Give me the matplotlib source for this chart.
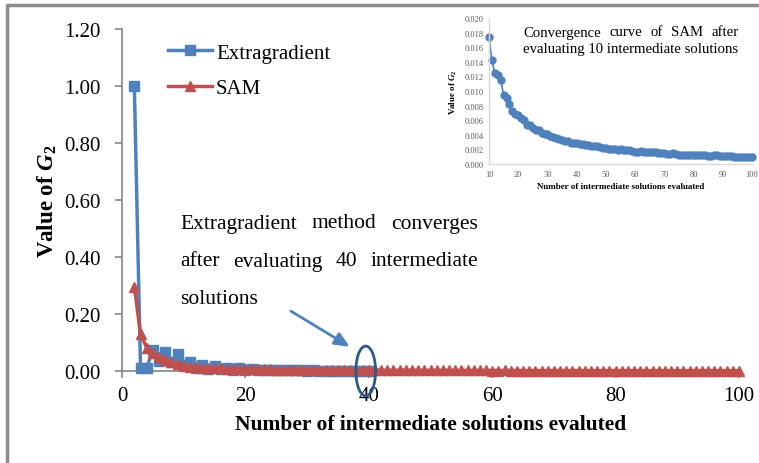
import matplotlib
matplotlib.use("Agg")
import matplotlib.pyplot as plt
from matplotlib.patches import Ellipse
from matplotlib.lines import Line2D

plt.rcParams['font.family'] = ['Liberation Serif', 'DejaVu Serif']
plt.rcParams['mathtext.fontset'] = 'custom'
plt.rcParams['mathtext.rm'] = 'Liberation Serif:bold'
plt.rcParams['mathtext.it'] = 'Liberation Serif:italic:bold'
plt.rcParams['mathtext.bf'] = 'Liberation Serif:bold'

# ---------------- data ----------------
extra_x = list(range(2, 41))
extra_y = [1.00, 0.010, 0.010, 0.075, 0.035, 0.068, 0.030, 0.060, 0.020, 0.032,
           0.012, 0.022, 0.008, 0.018, 0.006, 0.012, 0.005, 0.009, 0.004, 0.007,
           0.003, 0.005, 0.003, 0.004, 0.002, 0.003, 0.002, 0.0025, 0.0015, 0.002,
           0.0012, 0.0015, 0.001, 0.0012, 0.001, 0.001, 0.0008, 0.0008, 0.0006]

sam_x = list(range(2, 101))
sam_y = [0.295, 0.130, 0.082, 0.062, 0.050, 0.040, 0.031, 0.024,
         0.0174, 0.0142, 0.0124, 0.0122, 0.0115, 0.0095, 0.0090, 0.0082, 0.0072, 0.0069,
         0.0067, 0.0063, 0.0060, 0.0054, 0.0053, 0.0050, 0.0046, 0.0046, 0.0042, 0.0041,
         0.0041, 0.0039, 0.0037, 0.0035, 0.0034, 0.0033, 0.0032, 0.0032, 0.0029, 0.0029,
         0.0029, 0.0028, 0.0027, 0.0026, 0.0026, 0.0025, 0.0024, 0.0024, 0.0023, 0.0022,
         0.0022, 0.0021, 0.0021, 0.0020, 0.0019, 0.0020, 0.0019, 0.0019, 0.0019, 0.0018,
         0.0017, 0.0017, 0.0018, 0.0017, 0.0016, 0.0016, 0.0016, 0.0016, 0.0015, 0.0015,
         0.0015, 0.0014, 0.0014, 0.0015, 0.0014, 0.0013, 0.0013, 0.0013, 0.0013, 0.0013,
         0.0012, 0.0012, 0.0012, 0.0012, 0.0012, 0.0011, 0.0011, 0.0012, 0.0012, 0.0011,
         0.0011, 0.0011, 0.0011, 0.0011, 0.0010, 0.0010, 0.0010, 0.0010, 0.0010, 0.0010,
         0.0010]

inset_start = 10
inset_x = [x for x in sam_x if x >= inset_start]
inset_y = [y for x, y in zip(sam_x, sam_y) if x >= inset_start]

main_yticks = [0.0, 0.2, 0.4, 0.6, 0.8, 1.0, 1.2]
main_xticks = [0, 20, 40, 60, 80, 100]
inset_yticks = [0.000, 0.002, 0.004, 0.006, 0.008, 0.010, 0.012, 0.014, 0.016, 0.018, 0.020]
inset_xticks = [10, 20, 30, 40, 50, 60, 70, 80, 90, 100]

BLUE = '#4F81BD'
RED = '#C0504D'
GRAY = '#868686'

W, H = 759, 464
fig = plt.figure(figsize=(W / 100, H / 100), dpi=100)


def fx(px):
    return px / W


def fy(py):
    return 1 - py / H


# figure border (left + top visible)
fig.add_artist(Line2D([fx(7), fx(7), 1.0], [0.0, fy(6), fy(6)],
                      transform=fig.transFigure, color='#8c8c8c', lw=2.5))

# ---------------- main axes ----------------
ax = fig.add_axes([fx(122), fy(372), fx(739) - fx(122), fy(30) - fy(372)])
ax.plot(extra_x, extra_y, color=BLUE, lw=2.5, marker='s', ms=7, label='Extragradient',
        clip_on=False, zorder=3)
ax.plot(sam_x, sam_y, color=RED, lw=2.5, marker='^', ms=7, label='SAM',
        clip_on=False, zorder=4)
ax.set_xlim(0, 100)
ax.set_ylim(0, 1.2)
ax.set_yticks(main_yticks)
ax.set_yticklabels([f'{v:.2f}' for v in main_yticks])
ax.set_xticks(main_xticks)
ax.set_xticklabels([str(v) for v in main_xticks])
for s in ['top', 'right']:
    ax.spines[s].set_visible(False)
for s in ['left', 'bottom']:
    ax.spines[s].set_color(GRAY)
    ax.spines[s].set_linewidth(1.2)
ax.tick_params(axis='both', colors=GRAY, labelcolor='black', labelsize=15,
               length=5, width=1.2, direction='out')
ax.tick_params(axis='y', pad=10.5)
ax.tick_params(axis='x', pad=6)
ax.set_ylabel(r'Value of $G_2$', fontsize=16.5, fontweight='bold')
ax.yaxis.set_label_coords(-0.102, 0.5)
ax.set_xlabel('Number of intermediate solutions evaluted', fontsize=15.5, fontweight='bold')
ax.xaxis.set_label_coords(0.5, -0.125)

leg = ax.legend(loc='upper left', bbox_to_anchor=(fx(168), fy(44)),
                bbox_transform=fig.transFigure, frameon=False, fontsize=15,
                handlelength=2.1, handletextpad=0.2, labelspacing=0.75,
                borderpad=0, borderaxespad=0)

# annotation: arrow and ellipse
ax.add_patch(Ellipse((39.5, 0.0), 3.2, 0.175, fill=False, edgecolor='#2E5A8A',
                     lw=2, clip_on=False, zorder=6))
ax.annotate('', xy=(37.3, 0.08), xytext=(27.0, 0.215),
            arrowprops=dict(arrowstyle='-|>,head_length=0.9,head_width=0.4',
                            color=BLUE, lw=2), annotation_clip=False)

renderer = fig.canvas.get_renderer()


def justify(text, x0, x1, y, size, **kw):
    words = text.split()
    ts = [fig.text(fx(x0), fy(y), w, fontsize=size, va='center', ha='left', **kw) for w in words]
    widths = [t.get_window_extent(renderer).width for t in ts]
    gap = (x1 - x0 - sum(widths)) / (len(words) - 1)
    x = x0
    for t, w in zip(ts, widths):
        t.set_x(fx(x))
        x += w + gap


justify('Extragradient method converges', 180, 478, 224, 15.5)
justify('after evaluating 40 intermediate', 180, 478, 262, 15.5)
fig.text(fx(180), fy(300), 'solutions', fontsize=15.5, va='center', ha='left')

# ---------------- inset axes ----------------
ia = fig.add_axes([fx(489), fy(165), fx(752) - fx(489), fy(19) - fy(165)])
ia.set_facecolor('white')
ia.plot(inset_x, inset_y, color=BLUE, lw=1.2, marker='o', ms=5, clip_on=False)
ia.set_xlim(10, 100)
ia.set_ylim(0, 0.02)
ia.set_xticks(inset_xticks)
ia.set_yticks(inset_yticks)
ia.set_yticklabels([f'{v:.3f}' for v in inset_yticks])
for s in ['top', 'right']:
    ia.spines[s].set_visible(False)
for s in ['left', 'bottom']:
    ia.spines[s].set_color('#D9D9D9')
    ia.spines[s].set_linewidth(1)
ia.tick_params(axis='both', length=0, labelsize=6, labelcolor='#595959', pad=4)
ia.set_ylabel(r'Value of $G_2$', fontsize=6.5, fontweight='bold', labelpad=4)
ia.set_xlabel('Number of intermediate solutions evaluated', fontsize=6.5,
              fontweight='bold', labelpad=3)

justify('Convergence curve of SAM after', 523, 739, 33, 10.6)
fig.text(fx(523), fy(50), 'evaluating 10 intermediate solutions', fontsize=10.6,
         va='center', ha='left')

fig.savefig('out.png', dpi=100)
